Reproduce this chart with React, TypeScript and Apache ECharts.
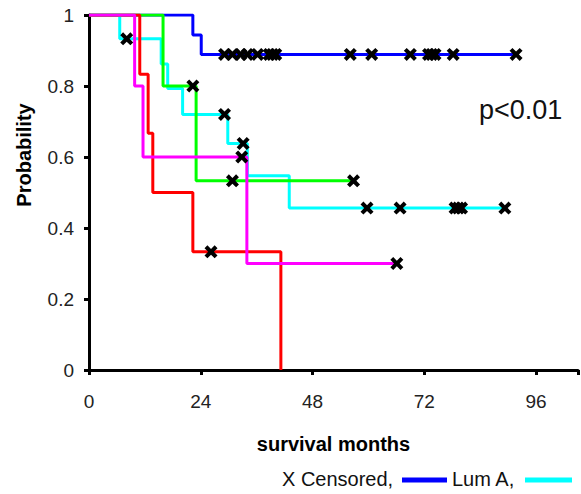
import React, { useEffect, useRef } from "react";
import * as echarts from "echarts";

// Kaplan–Meier step data (months, survival probability)
const blueT = [0, 22.3, 24.1, 91.7];
const blueS = [1, 0.944, 0.889, 0.889];
const cyanT = [0, 6.6, 15.5, 16.9, 20.1, 29.8, 34.0, 43.0, 89.3];
const cyanS = [1, 0.933, 0.862, 0.793, 0.72, 0.638, 0.547, 0.456, 0.456];
const greenT = [0, 15.9, 23.0, 56.8];
const greenS = [1, 0.8, 0.533, 0.533];
const redT = [0, 10.9, 12.7, 13.7, 22.3, 41.2];
const redS = [1, 0.833, 0.667, 0.5, 0.333, 0];
const magentaT = [0, 9.8, 11.6, 33.9, 66.1];
const magentaS = [1, 0.8, 0.6, 0.3, 0.3];

// Censored observations
const blueCensT = [29.1, 30.8, 32.6, 34.0, 36.2, 38.7, 39.4, 40.1, 56.1, 60.7, 69.0, 72.9, 73.6, 74.3, 78.2, 91.7];
const blueCensS = blueCensT.map(() => 0.889);
const cyanCensT = [8.1, 29.1, 33.1, 59.7, 66.8, 78.6, 79.3, 80.0, 89.3];
const cyanCensS = [0.933, 0.72, 0.638, 0.456, 0.456, 0.456, 0.456, 0.456, 0.456];
const greenCensT = [22.3, 30.8, 56.8];
const greenCensS = [0.8, 0.533, 0.533];
const redCensT = [26.2];
const redCensS = [0.333];
const magentaCensT = [32.8, 66.1];
const magentaCensS = [0.6, 0.3];

const xTicks = [0, 24, 48, 72, 96];
const FONT = "'Liberation Sans', Arial, Helvetica, sans-serif";

const X_PATH =
  "path://M0,2.2 L2.2,0 L5,2.8 L7.8,0 L10,2.2 L7.2,5 L10,7.8 L7.8,10 L5,7.2 L2.2,10 L0,7.8 L2.8,5 Z";

const zip = (t: number[], s: number[]) => t.map((v, i) => [v, s[i]]);

export default function App() {
  const ref = useRef<HTMLDivElement>(null);
  useEffect(() => {
    if (!ref.current) return;
    const chart = echarts.init(ref.current, undefined, { renderer: "svg" });
    const stepSeries = (name: string, t: number[], s: number[], color: string) => ({
      name,
      type: "line",
      step: "end",
      data: zip(t, s),
      symbol: "none",
      lineStyle: { color, width: 3 },
      z: 2,
    });
    const censSeries = (t: number[], s: number[]) => ({
      type: "scatter",
      data: zip(t, s),
      symbol: X_PATH,
      symbolSize: 13,
      itemStyle: { color: "#000", opacity: 1 },
      z: 5,
    });
    chart.setOption({
      animation: false,
      grid: { left: 89, top: 15, right: 0, bottom: 124, containLabel: false },
      xAxis: {
        type: "value",
        min: 0,
        max: 105,
        interval: 24,
        name: "survival months",
        nameLocation: "middle",
        nameGap: 64,
        nameTextStyle: { fontFamily: FONT, fontWeight: "bold", fontSize: 20, color: "#000" },
        axisLine: { lineStyle: { color: "#000", width: 3 } },
        axisTick: { length: 5, lineStyle: { color: "#000", width: 3 } },
        axisLabel: {
          fontFamily: FONT,
          fontSize: 19,
          color: "#222",
          margin: 22,
          formatter: (v: number) => (xTicks.includes(v) ? String(v) : ""),
        },
        splitLine: { show: false },
      },
      yAxis: {
        type: "value",
        min: 0,
        max: 1,
        interval: 0.2,
        axisLine: { show: true, lineStyle: { color: "#000", width: 3 } },
        axisTick: { show: true, length: 5, lineStyle: { color: "#000", width: 3 } },
        axisLabel: { fontFamily: FONT, fontSize: 19, color: "#222", margin: 15 },
        splitLine: { show: false },
      },
      series: [
        stepSeries("Lum A", blueT, blueS, "#0000ff"),
        stepSeries("cyan", cyanT, cyanS, "#00ffff"),
        stepSeries("green", greenT, greenS, "#00ff00"),
        stepSeries("red", redT, redS, "#ff0000"),
        stepSeries("magenta", magentaT, magentaS, "#ff00ff"),
        censSeries(blueCensT, blueCensS),
        censSeries(cyanCensT, cyanCensS),
        censSeries(greenCensT, greenCensS),
        censSeries(redCensT, redCensS),
        censSeries(magentaCensT, magentaCensS),
      ],
      graphic: [
        {
          type: "text",
          x: 24,
          y: 155,
          rotation: Math.PI / 2,
          style: {
            text: "Probability",
            font: `bold 20px ${FONT}`,
            fill: "#000",
            align: "center",
            verticalAlign: "middle",
          },
        },
        {
          type: "text",
          x: 479,
          y: 110,
          style: {
            text: "p<0.01",
            font: `27px ${FONT}`,
            fill: "#111",
            align: "left",
            verticalAlign: "middle",
          },
        },
        {
          type: "text",
          x: 282,
          y: 479,
          style: {
            text: "X Censored,",
            font: `20px ${FONT}`,
            fill: "#111",
            align: "left",
            verticalAlign: "middle",
          },
        },
        { type: "rect", shape: { x: 402, y: 477.5, width: 45, height: 5 }, style: { fill: "#0000ff" } },
        {
          type: "text",
          x: 452,
          y: 479,
          style: {
            text: "Lum A,",
            font: `20px ${FONT}`,
            fill: "#111",
            align: "left",
            verticalAlign: "middle",
          },
        },
        { type: "rect", shape: { x: 525, y: 477.5, width: 47, height: 5 }, style: { fill: "#00ffff" } },
      ],
    });
    return () => chart.dispose();
  }, []);
  return (
    <div
      ref={ref}
      style={{ position: "fixed", left: 0, top: 0, width: 581, height: 494, background: "#fff" }}
    />
  );
}
